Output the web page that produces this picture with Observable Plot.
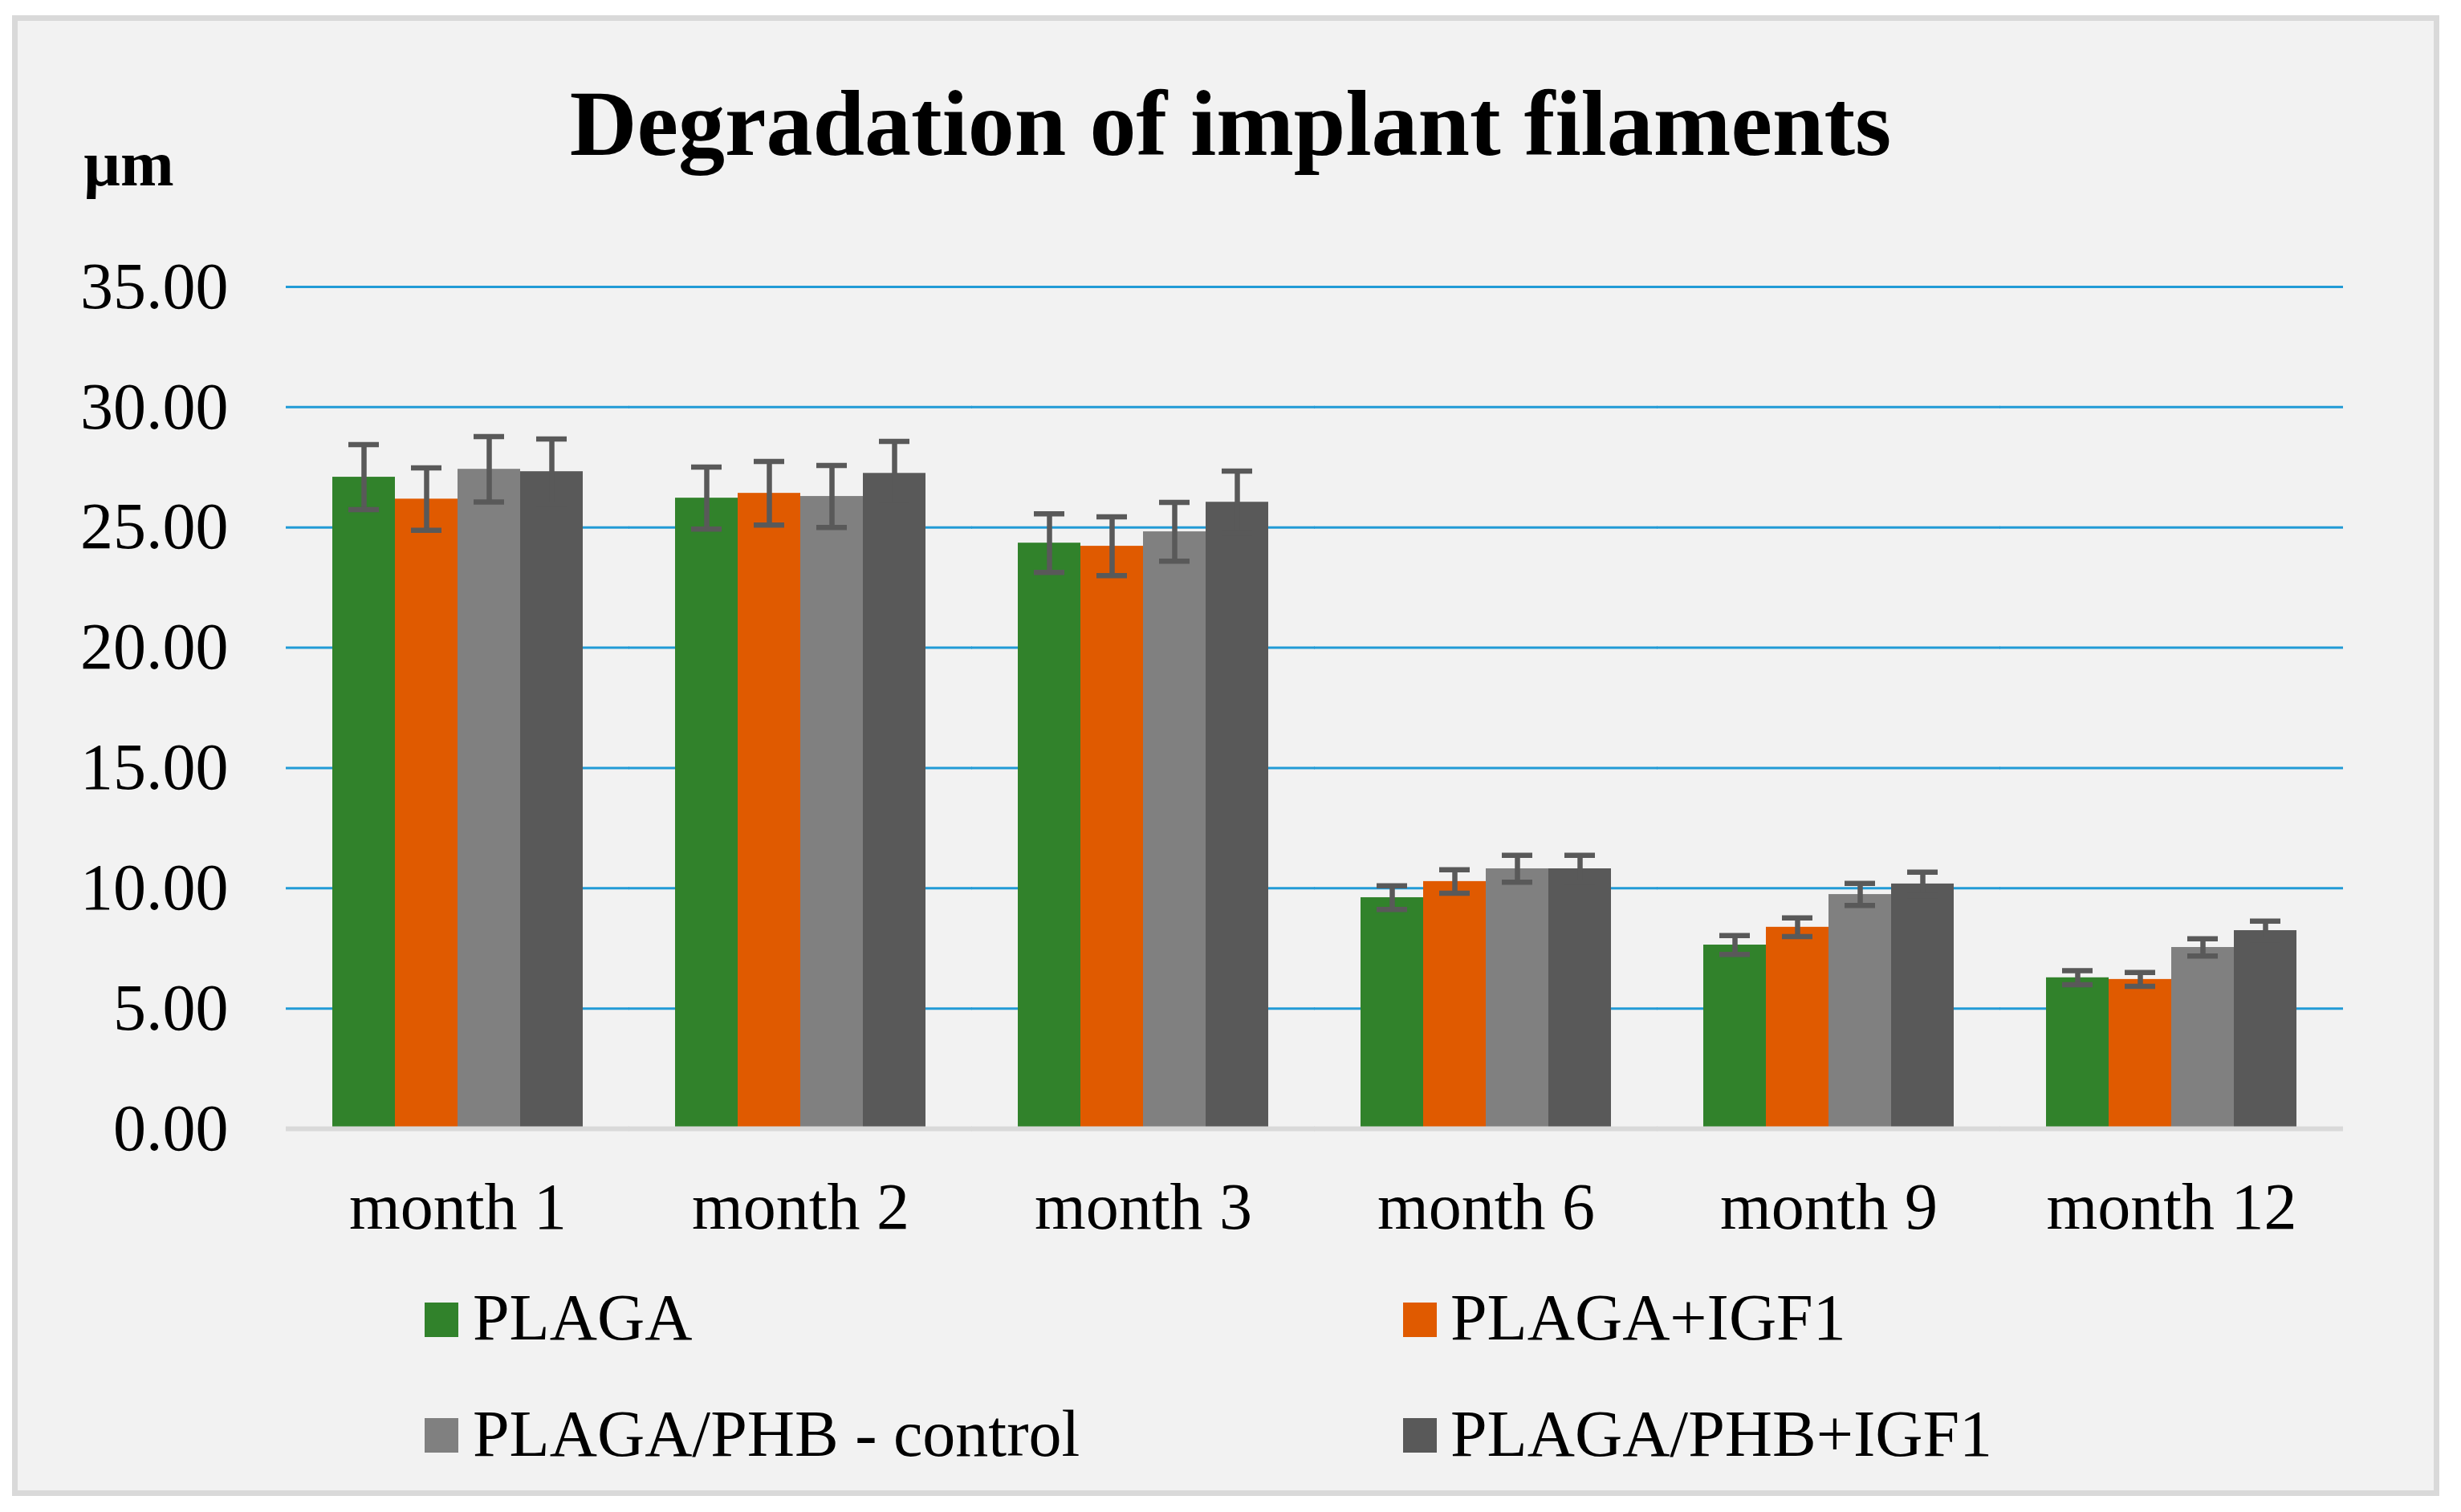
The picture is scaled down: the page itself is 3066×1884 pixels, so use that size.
<!DOCTYPE html>
<html><head><meta charset="utf-8">
<script src="https://cdn.jsdelivr.net/npm/d3@7"></script>
<script src="https://cdn.jsdelivr.net/npm/@observablehq/plot@0.6"></script>
<style>
html,body{margin:0;padding:0;background:#fff;}
#page{position:relative;width:3066px;height:1884px;overflow:hidden;font-family:"Times New Roman","Liberation Serif",serif;color:#000;}
#box{position:absolute;left:15px;top:19px;width:3010px;height:1831px;border:7px solid #d9d9d9;background:#f2f2f2;}
#title{position:absolute;left:0;top:96px;width:3066px;text-align:center;font-size:116px;font-weight:bold;line-height:1;white-space:nowrap;}
#unit{position:absolute;left:104px;top:164px;font-size:80px;font-weight:bold;line-height:1;}
#chart{position:absolute;left:0;top:290px;}
.leg{position:absolute;font-size:82px;line-height:1;white-space:nowrap;}
.sw{position:absolute;width:42px;height:43px;}
</style></head>
<body>
<div id="page">
  <div id="box"></div>
  <div id="title">Degradation of implant filaments</div>
  <div id="unit">µm</div>
  <div id="chart"></div>
  <div id="legend"></div>
</div>
<script>
const months = ["month 1", "month 2", "month 3", "month 6", "month 9", "month 12"];
const seriesNames = ["PLAGA", "PLAGA+IGF1", "PLAGA/PHB - control", "PLAGA/PHB+IGF1"];
const seriesColors = ["#31822b", "#e05a00", "#808080", "#595959"];

const plaga        = [27.09, 26.22, 24.35, 9.61, 7.64, 6.28];
const plagaIgf1    = [26.18, 26.42, 24.22, 10.28, 8.38, 6.21];
const phbControl   = [27.42, 26.29, 24.82, 10.81, 9.74, 7.54];
const phbIgf1      = [27.32, 27.25, 26.05, 10.81, 10.18, 8.24];

const plagaErr      = [1.35, 1.29, 1.22, 0.49, 0.39, 0.29];
const plagaIgf1Err  = [1.30, 1.32, 1.22, 0.49, 0.39, 0.29];
const phbControlErr = [1.36, 1.29, 1.22, 0.56, 0.46, 0.36];
const phbIgf1Err    = [1.36, 1.33, 1.29, 0.56, 0.49, 0.39];

const yTicks = [0, 5, 10, 15, 20, 25, 30, 35];

const values = [plaga, plagaIgf1, phbControl, phbIgf1];
const errs = [plagaErr, plagaIgf1Err, phbControlErr, phbIgf1Err];
const rows = [];
seriesNames.forEach((s, i) => months.forEach((m, j) => rows.push({month: m, series: s, value: values[i][j], err: errs[i][j]})));

const ext = -57;
const chart = Plot.plot({
  width: 3066, height: 1280,
  marginLeft: 356, marginRight: 147, marginTop: 67, marginBottom: 164,
  style: {fontFamily: "'Times New Roman', 'Liberation Serif', serif", background: "transparent", color: "#000", overflow: "visible", maxWidth: "none"},
  fx: {domain: months, paddingInner: 0.265, paddingOuter: 0.1325, label: null},
  x: {domain: seriesNames, padding: 0, axis: null},
  y: {domain: [0, 35], label: null},
  color: {domain: seriesNames, range: seriesColors},
  marks: [
    Plot.ruleY(yTicks, {stroke: "#229bd6", strokeWidth: 3, insetLeft: ext, insetRight: ext}),
    Plot.barY(rows, {fx: "month", x: "series", y: "value", fill: "series"}),
    Plot.ruleY([0], {stroke: "#d9d9d9", strokeWidth: 6, insetLeft: ext, insetRight: ext}),
    Plot.ruleX(rows, {fx: "month", x: "series", y1: d => d.value - d.err, y2: d => d.value + d.err, stroke: "#595959", strokeWidth: 6.5}),
    Plot.tickY(rows, {fx: "month", x: "series", y: d => d.value + d.err, stroke: "#595959", strokeWidth: 6.5, inset: 20}),
    Plot.tickY(rows, {fx: "month", x: "series", y: d => d.value - d.err, stroke: "#595959", strokeWidth: 6.5, inset: 20}),
    Plot.axisY({ticks: yTicks, tickFormat: d3.format(".2f"), tickSize: 0, tickPadding: 129, fontSize: 82, label: null}),
    Plot.axisFx({anchor: "bottom", tickSize: 0, tickPadding: 66, fontSize: 82, label: null})
  ]
});
document.getElementById("chart").appendChild(chart);

// legend
const legPos = [
  {sx: 529, tx: 589, top: 1623, base: 1670},
  {sx: 1748, tx: 1807, top: 1623, base: 1670},
  {sx: 529, tx: 589, top: 1767, base: 1815},
  {sx: 1748, tx: 1807, top: 1767, base: 1815}
];
const legend = document.getElementById("legend");
seriesNames.forEach((s, i) => {
  const p = legPos[i];
  const sw = document.createElement("div");
  sw.className = "sw";
  sw.style.left = p.sx + "px";
  sw.style.top = p.top + "px";
  sw.style.background = seriesColors[i];
  legend.appendChild(sw);
  const t = document.createElement("div");
  t.className = "leg";
  t.style.left = p.tx + "px";
  t.style.top = (p.base - 0.8375 * 82) + "px";
  t.textContent = s;
  legend.appendChild(t);
});
</script>
</body></html>
